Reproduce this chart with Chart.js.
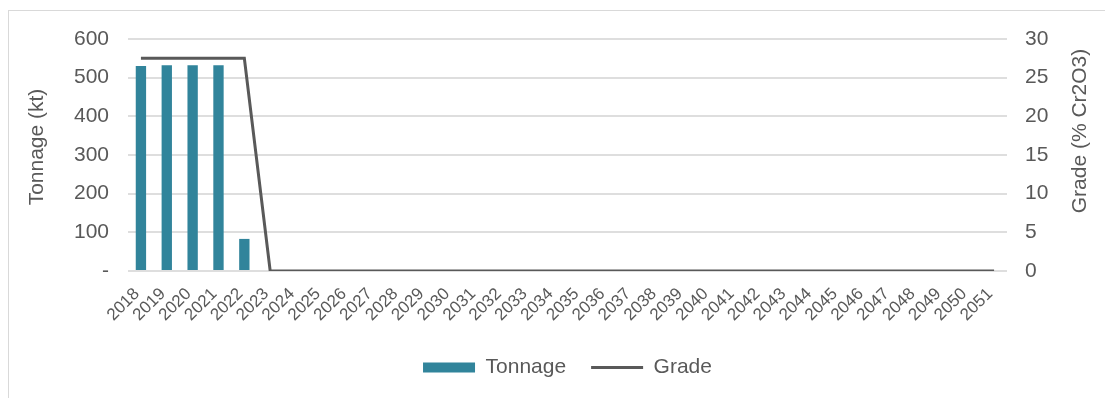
<!DOCTYPE html>
<html>
<head>
<meta charset="utf-8">
<script src="https://cdn.jsdelivr.net/npm/chart.js@4.4.1/dist/chart.umd.min.js"></script>
<style>
  html, body { margin: 0; padding: 0; background: #fff; overflow: hidden; }
  #frame { position: absolute; left: 8px; top: 10px; width: 1110px; height: 400px; border: 1px solid #d9d9d9; box-sizing: border-box; }
  #wrap { position: absolute; left: 0; top: 0; width: 1105px; height: 398px; }
</style>
</head>
<body>
<div id="frame"></div>
<div id="wrap"><canvas id="chart" width="1105" height="398"></canvas></div>
<script>
// Annual production schedule, 2018-2051
const years = [
  '2018','2019','2020','2021','2022','2023','2024','2025','2026','2027',
  '2028','2029','2030','2031','2032','2033','2034','2035','2036','2037',
  '2038','2039','2040','2041','2042','2043','2044','2045','2046','2047',
  '2048','2049','2050','2051'
];
// Tonnage mined (kt)
const tonnage = [530, 532, 532, 532, 83,
  0, 0, 0, 0, 0, 0, 0, 0, 0, 0, 0, 0, 0, 0, 0, 0, 0, 0, 0, 0, 0, 0, 0, 0, 0, 0, 0, 0, 0];
// Head grade (% Cr2O3)
const grade = [27.5, 27.5, 27.5, 27.5, 27.5,
  0, 0, 0, 0, 0, 0, 0, 0, 0, 0, 0, 0, 0, 0, 0, 0, 0, 0, 0, 0, 0, 0, 0, 0, 0, 0, 0, 0, 0];

const leftTitle = 'Tonnage (kt)';
const rightTitle = 'Grade (% Cr2O3)';

const textColor = '#595959';
const fontFamily = '"Liberation Sans", Arial, sans-serif';
const mainSize = 21;
Chart.defaults.font.family = fontFamily;
Chart.defaults.color = textColor;

// Both axis titles read bottom-to-top, beside their axes
const axisTitles = {
  id: 'axisTitles',
  afterDraw(chart) {
    const { ctx, scales } = chart;
    const draw = (text, x, y) => {
      ctx.save();
      ctx.translate(x, y);
      ctx.rotate(-Math.PI / 2);
      ctx.font = mainSize + 'px ' + fontFamily;
      ctx.fillStyle = textColor;
      ctx.textAlign = 'center';
      ctx.textBaseline = 'middle';
      ctx.fillText(text, 0, 0);
      ctx.restore();
    };
    const yl = scales.y, yr = scales.y1;
    draw(leftTitle, yl.left + 13, (yl.top + yl.bottom) / 2 - 8);
    draw(rightTitle, yr.right - 15, (yr.top + yr.bottom) / 2 - 24);
  }
};

new Chart(document.getElementById('chart'), {
  data: {
    labels: years,
    datasets: [
      {
        type: 'bar',
        label: 'Tonnage',
        data: tonnage,
        yAxisID: 'y',
        backgroundColor: '#31849B',
        barPercentage: 0.4,
        categoryPercentage: 1.0,
        pointStyle: 'rect'
      },
      {
        type: 'line',
        label: 'Grade',
        data: grade,
        yAxisID: 'y1',
        borderColor: '#595959',
        backgroundColor: '#595959',
        borderWidth: 3,
        tension: 0,
        pointRadius: 0,
        pointStyle: 'line'
      }
    ]
  },
  options: {
    responsive: false,
    animation: false,
    layout: { padding: { left: 24, right: 10, top: 39, bottom: 10 } },
    plugins: {
      tooltip: { enabled: false },
      legend: {
        position: 'bottom',
        fullSize: false,
        labels: {
          usePointStyle: true,
          pointStyleWidth: 52,
          boxHeight: 10,
          padding: 25,
          color: textColor,
          font: { size: mainSize }
        }
      }
    },
    scales: {
      x: {
        offset: true,
        grid: { display: false },
        border: { display: false },
        ticks: {
          autoSkip: false,
          minRotation: 45,
          maxRotation: 45,
          padding: 5,
          labelOffset: -4,
          color: textColor,
          font: { size: 17 }
        },
        afterFit: (s) => { s.height = 61; }
      },
      y: {
        position: 'left',
        min: 0,
        max: 600,
        ticks: {
          stepSize: 100,
          padding: 19,
          color: textColor,
          font: { size: mainSize },
          callback: (v) => (v === 0 ? '-' : v)
        },
        grid: { color: '#dedede', lineWidth: 2, drawTicks: false },
        border: { display: false },
        afterFit: (s) => { s.width = 104; }
      },
      y1: {
        position: 'right',
        min: 0,
        max: 30,
        ticks: {
          stepSize: 5,
          padding: 18,
          color: textColor,
          font: { size: mainSize }
        },
        grid: { display: false, drawTicks: false },
        border: { display: false },
        afterFit: (s) => { s.width = 88; }
      }
    }
  },
  plugins: [axisTitles]
});
</script>
</body>
</html>
